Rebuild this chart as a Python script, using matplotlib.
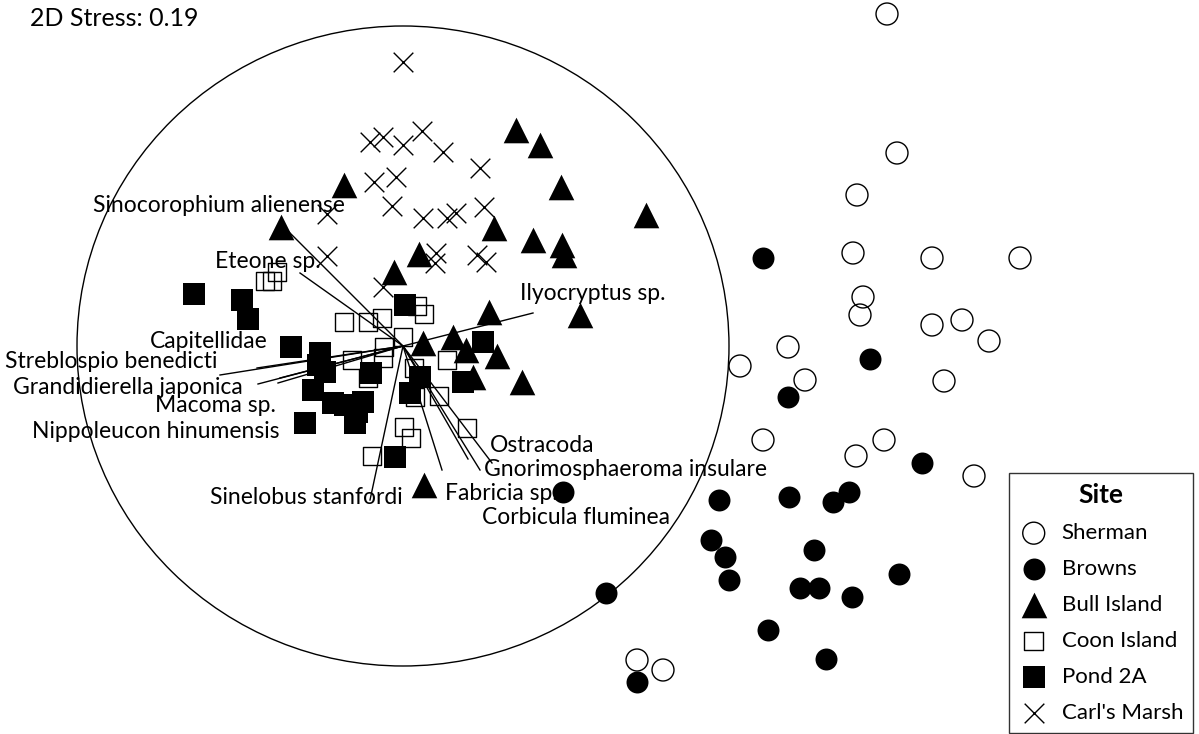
import matplotlib.pyplot as plt
from matplotlib.patches import Ellipse

# NMDS sample positions (in image units)
sherman_x = [887, 897, 857, 853, 932, 1020, 863, 860, 932, 962, 989, 788, 740, 805, 944, 763, 884, 856, 974, 637, 663]
sherman_y = [14, 153, 195, 253, 258, 258, 297, 315, 325, 320, 341, 347, 366, 380, 381, 440, 440, 456, 476, 660, 670]

browns_x = [763, 870, 788, 922, 563, 719, 789, 833, 849, 711, 725, 729, 814, 800, 819, 852, 899, 606, 768, 826, 637]
browns_y = [258, 359, 397, 463, 492, 500, 497, 502, 492, 540, 557, 580, 550, 588, 588, 597, 574, 593, 630, 659, 682]

bull_x = [516, 540, 561, 646, 344, 281, 494, 533, 562, 564, 419, 394, 489, 580, 423, 453, 466, 497, 473, 522, 424]
bull_y = [130, 145, 187, 215, 185, 227, 228, 240, 245, 255, 254, 272, 312, 315, 343, 337, 350, 356, 377, 382, 485]

coon_x = [265, 272, 277, 344, 368, 382, 417, 424, 403, 384, 352, 383, 447, 368, 414, 415, 439, 467, 404, 411, 372]
coon_y = [281, 281, 272, 322, 322, 318, 306, 314, 337, 347, 360, 358, 360, 378, 368, 397, 396, 428, 427, 438, 456]

pond_x = [194, 242, 248, 291, 320, 318, 325, 371, 313, 333, 345, 363, 355, 305, 395, 405, 483, 463, 420, 410, 357]
pond_y = [294, 300, 319, 347, 353, 365, 372, 373, 390, 403, 405, 402, 423, 423, 457, 305, 342, 382, 377, 393, 412]

carls_x = [403, 370, 383, 403, 422, 443, 480, 374, 396, 392, 423, 447, 456, 484, 327, 327, 436, 435, 477, 486, 383]
carls_y = [62, 142, 137, 145, 131, 152, 168, 182, 177, 206, 218, 218, 213, 207, 214, 256, 253, 263, 255, 262, 287]

# species vectors: end points of the lines from the origin, and label anchors
species = ["Sinocorophium alienense", "Eteone sp.", "Ilyocryptus sp.", "Capitellidae",
           "Streblospio benedicti", "Grandidierella japonica", "Macoma sp.",
           "Nippoleucon hinumensis", "Ostracoda", "Gnorimosphaeroma insulare",
           "Fabricia sp.", "Corbicula fluminea", "Sinelobus stanfordi"]
vec_x = [285, 300, 533, 257, 220, 258, 278, 280, 492, 480, 442, 468, 370]
vec_y = [228, 273, 313, 368, 375, 384, 383, 378, 463, 470, 470, 459, 500]
lab_x = [93, 215, 520, 150, 5, 13, 155, 32, 490, 484, 445, 482, 210]
lab_y = [205, 261, 293, 342, 362, 387, 406, 432, 446, 470, 493, 517, 497]
origin = (403, 346)

plt.rcParams['font.family'] = ['Lato', 'DejaVu Sans']

fig = plt.figure(figsize=(11.99, 7.34), dpi=100)
ax = fig.add_axes([0, 0, 1, 1])
ax.set_xlim(0, 1199)
ax.set_ylim(734, 0)
ax.axis('off')

ax.scatter(sherman_x, sherman_y, s=250, marker='o', facecolors='none', edgecolors='black', linewidths=1, label='Sherman')
ax.scatter(browns_x, browns_y, s=250, marker='o', color='black', linewidths=0, label='Browns')
ax.scatter(bull_x, bull_y, s=340, marker='^', color='black', linewidths=0, label='Bull Island')
ax.scatter(coon_x, coon_y, s=180, marker='s', facecolors='none', edgecolors='black', linewidths=1, label='Coon Island')
ax.scatter(pond_x, pond_y, s=250, marker='s', color='black', linewidths=0, label='Pond 2A')
ax.scatter(carls_x, carls_y, s=200, marker='x', color='black', linewidths=1, label="Carl's Marsh")

# correlation circle and vectors
ax.add_patch(Ellipse(origin, 652, 640, fill=False, edgecolor='black', lw=1))
for name, vx, vy, tx, ty in zip(species, vec_x, vec_y, lab_x, lab_y):
    ax.plot([origin[0], vx], [origin[1], vy], color='black', lw=1)
    ax.text(tx, ty, name, fontsize=16.5, ha='left', va='center')

ax.text(30, 18, "2D Stress: 0.19", fontsize=18, ha='left', va='center')

leg = ax.legend(title='Site', loc='lower right', bbox_to_anchor=(1193, 733), bbox_transform=ax.transData,
                frameon=True, fancybox=False, edgecolor='black', fontsize=16,
                title_fontproperties={'weight': 'bold', 'size': 19},
                labelspacing=0.72, handletextpad=0.6, borderaxespad=0, handlelength=1.3,
                borderpad=0.45)
leg.get_frame().set_linewidth(1)

plt.savefig("out.png", dpi=100)
